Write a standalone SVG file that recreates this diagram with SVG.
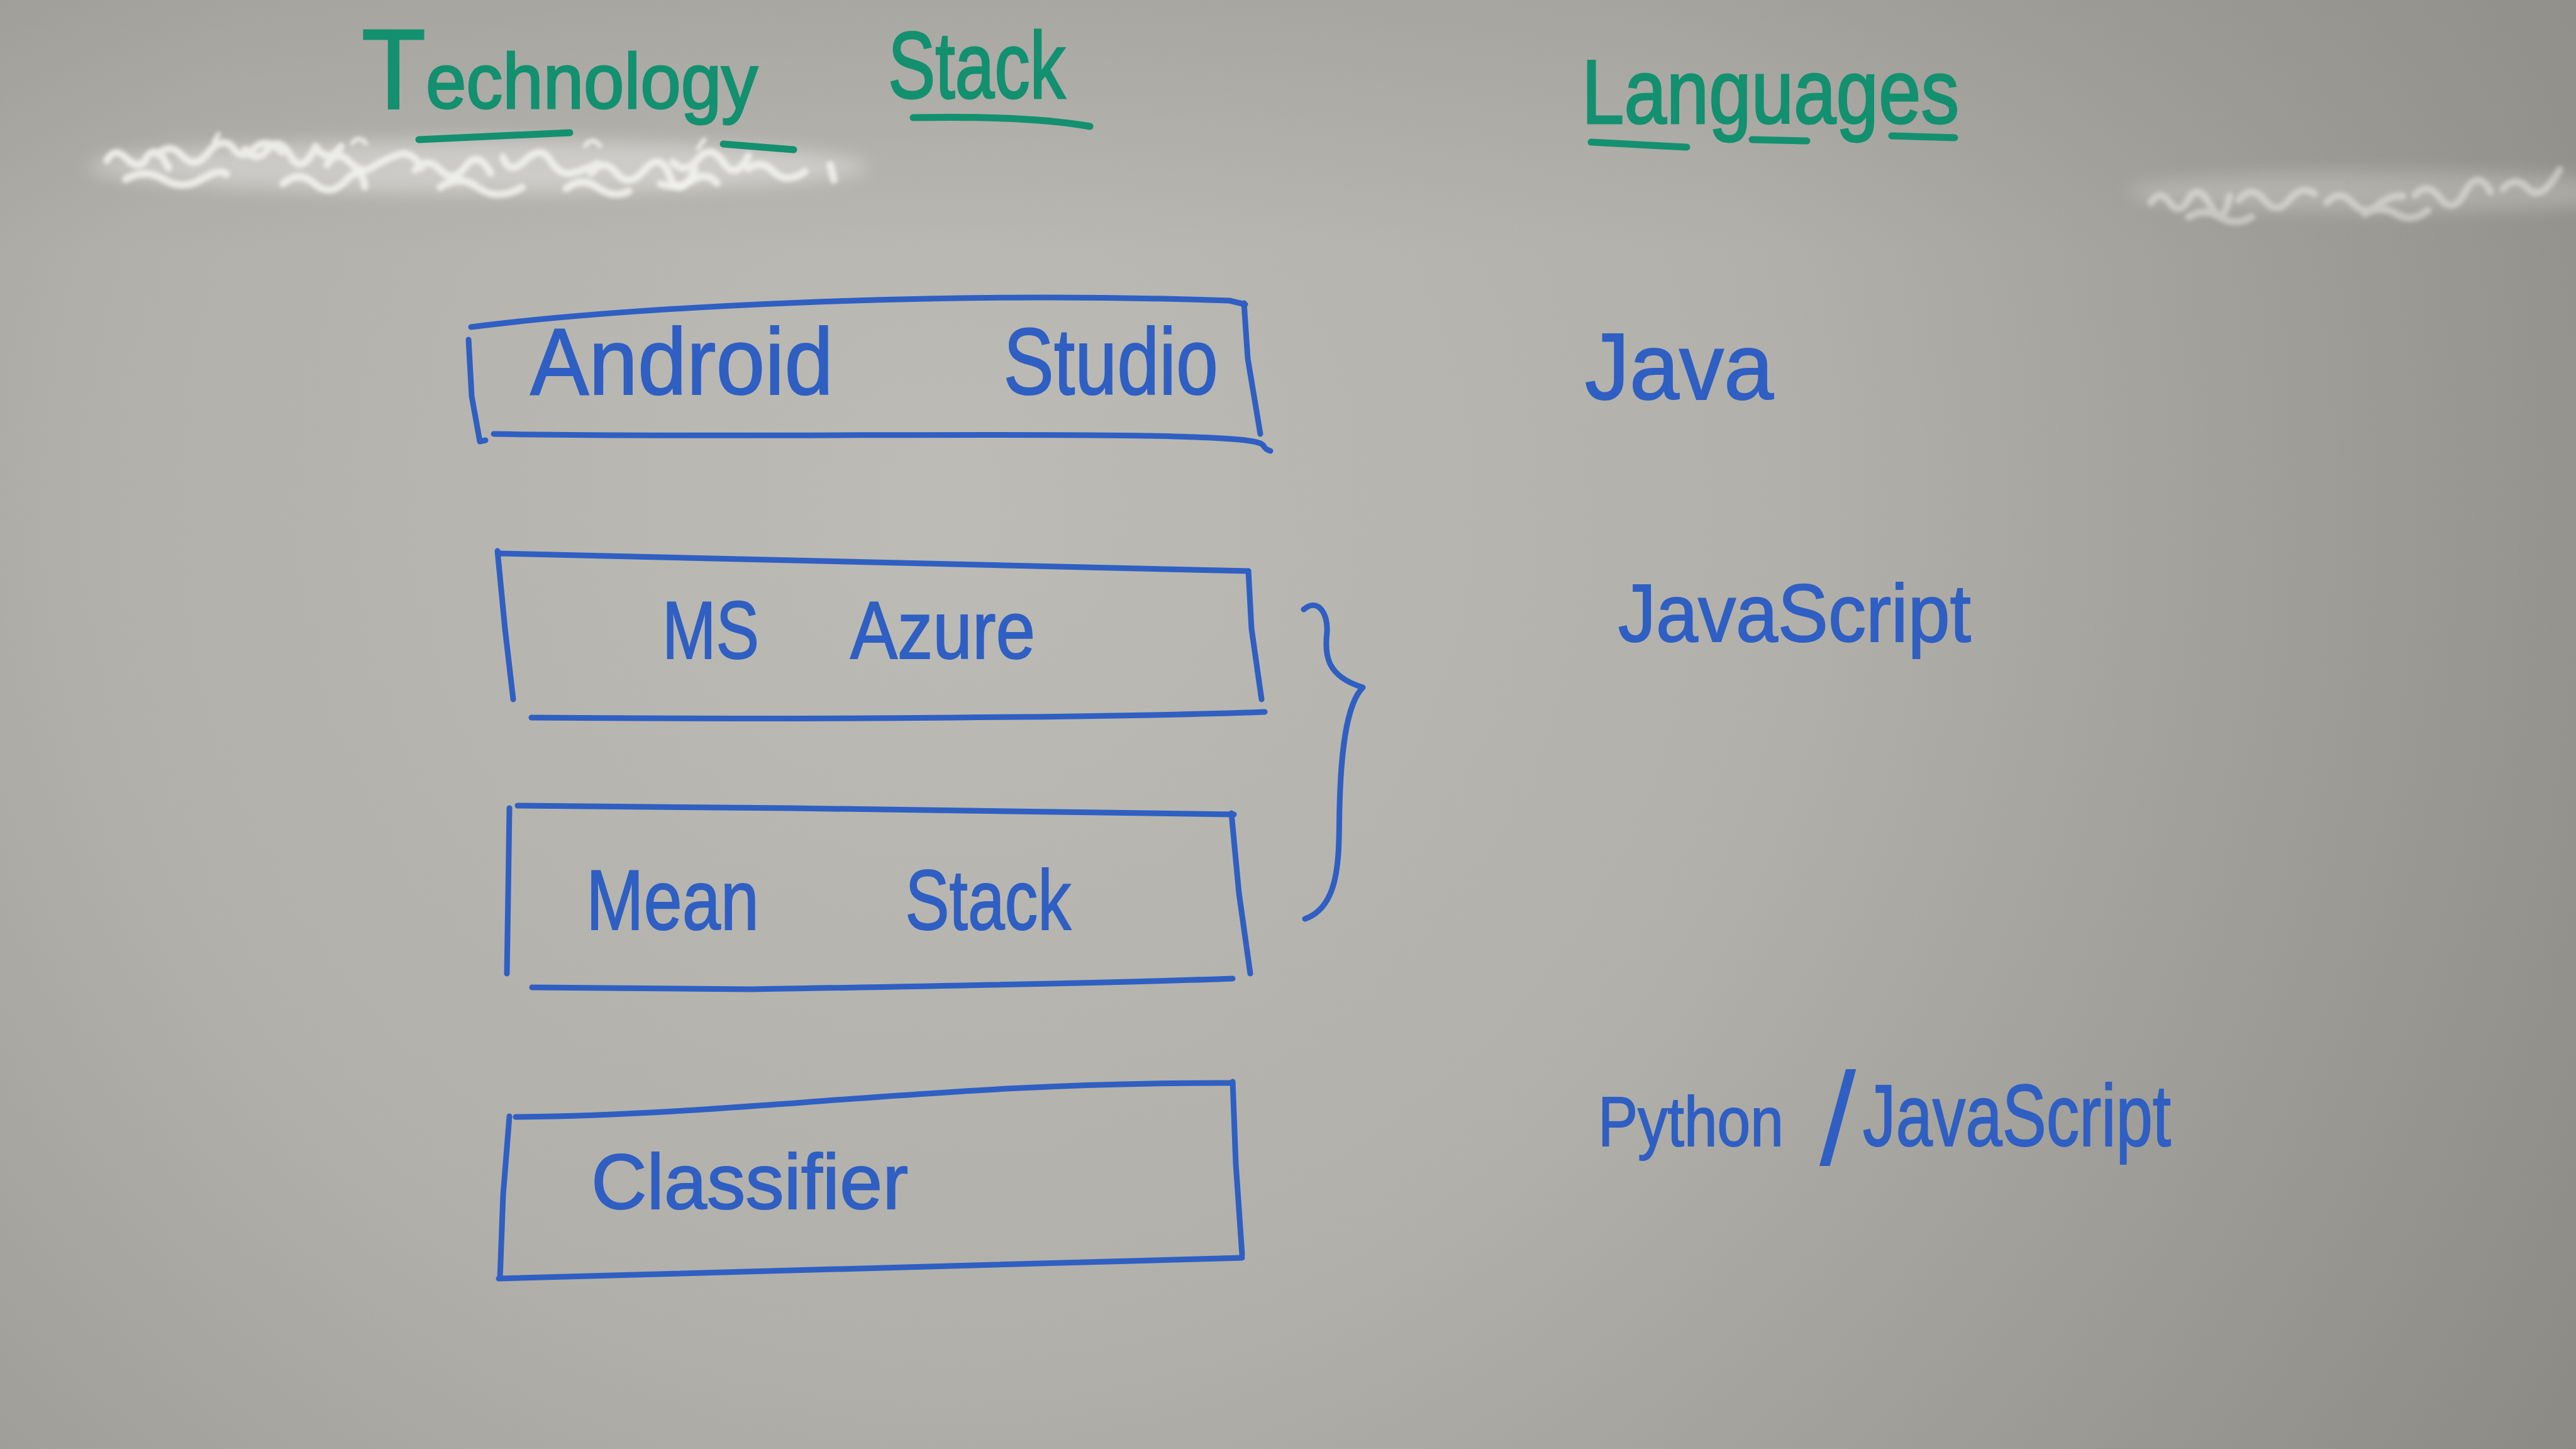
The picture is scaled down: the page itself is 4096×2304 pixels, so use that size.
<svg xmlns="http://www.w3.org/2000/svg" width="4096" height="2304" viewBox="0 0 4096 2304">
<defs>
<radialGradient id="board" cx="1500" cy="800" r="3000" gradientUnits="userSpaceOnUse">
<stop offset="0" stop-color="#bcbbb6"/>
<stop offset="0.45" stop-color="#b2b0aa"/>
<stop offset="1" stop-color="#8c8a84"/>
</radialGradient>
<linearGradient id="topshade" x1="0" y1="0" x2="0" y2="1">
<stop offset="0" stop-color="#8f8e8a" stop-opacity="0.35"/>
<stop offset="1" stop-color="#8f8e8a" stop-opacity="0"/>
</linearGradient>
<filter id="soft" x="-10%" y="-50%" width="120%" height="200%"><feGaussianBlur stdDeviation="14"/></filter>
<filter id="soft2" x="-10%" y="-50%" width="120%" height="200%"><feGaussianBlur stdDeviation="3"/></filter>
</defs>
<style>
.ink{fill:none;stroke:#2f5fc2;stroke-width:9;stroke-linecap:round;stroke-linejoin:round}
.gink{fill:none;stroke:#13906f;stroke-width:11;stroke-linecap:round;stroke-linejoin:round}
.lbl{font-family:"Liberation Sans",Arial,sans-serif;fill:#2f5fc2;stroke:#2f5fc2;stroke-width:2}
.ttl{font-family:"Liberation Sans",Arial,sans-serif;fill:#13906f;stroke:#13906f;stroke-width:3}
.smudge{fill:none;stroke:#f2f2ee;stroke-width:12;stroke-linecap:round;stroke-linejoin:round;opacity:0.85}
</style>
<rect x="0" y="0" width="4096" height="2304" fill="url(#board)"/>
<rect x="0" y="0" width="4096" height="400" fill="url(#topshade)"/>

<g id="smudges">
<ellipse cx="760" cy="265" rx="620" ry="42" fill="#ffffff" opacity="0.35" filter="url(#soft)"/>
<g filter="url(#soft2)">
<path class="smudge" d="M170 255 q12 -22 30 -4 t30 6 q10 -25 28 -8 l10 18 M250 246 q20 -20 40 2 t40 -4 t38 -12 q15 25 35 5 t45 5 M390 238 q18 22 36 0 t36 10 t40 -15 q20 30 40 0 M520 262 q15 -25 35 -5 t35 10 t40 -20 t40 20 M660 270 q20 -22 40 0 t40 -5 t40 10 M800 250 q10 30 35 5 t40 0 t35 20 t40 -15 M940 275 q20 -25 40 0 t45 -5 t40 10 t40 -10 M1070 258 q20 20 40 -5 t40 5 t40 -10 M1190 268 q20 -15 40 5 t50 0 M1320 262 l6 24"/>
<path class="smudge" d="M200 285 q30 -18 60 0 t60 0 t40 -8 M450 292 q25 -22 50 0 t50 -5 t30 10 M700 298 q30 -22 60 0 t70 0 M900 300 q25 -20 50 -2 t50 6 M1050 292 q25 10 50 -5 t40 4"/>
<path class="smudge" style="stroke-width:7" d="M340 225 l8 -12 M560 228 q10 -14 22 0 M930 232 q12 -16 24 0 M1110 236 l10 -14"/>
<ellipse cx="3800" cy="305" rx="420" ry="32" fill="#ffffff" opacity="0.22" filter="url(#soft)"/>
<path class="smudge" style="opacity:0.45" d="M3420 322 q15 -22 30 0 t30 -5 t35 10 t30 -15 M3560 318 q20 -25 40 0 t40 0 t40 -10 M3700 322 q20 -22 40 0 t40 5 t40 -15 M3840 310 q20 -22 40 5 t40 -10 t40 0 M3980 300 q20 -22 40 0 t50 -30 M3480 345 q25 -15 50 0 t50 0 M3760 340 q25 -15 50 0 t50 -5"/>
</g>
</g>

<g id="title-technology">
<text class="ttl" x="575" y="172" font-size="125" textLength="630" lengthAdjust="spacingAndGlyphs"><tspan font-size="180">T</tspan>echnology</text>
<path class="gink" d="M666 222 L906 211"/>
<path class="gink" d="M1150 229 L1262 238"/>
</g>
<g id="title-stack">
<text class="ttl" x="1412" y="156" font-size="150" textLength="282" lengthAdjust="spacingAndGlyphs">Stack</text>
<path class="gink" d="M1452 187 C1560 185 1660 188 1733 201"/>
</g>
<g id="title-languages">
<text class="ttl" x="2515" y="196" font-size="145" textLength="600" lengthAdjust="spacingAndGlyphs">Languages</text>
<path class="gink" d="M2530 226 L2682 234"/>
<path class="gink" d="M2786 222 L2873 224"/>
<path class="gink" d="M3008 216 L3108 219"/>
</g>

<g id="node-android-studio">
<path class="ink" d="M749 520 C1000 488 1500 462 1955 478 L1980 484"/>
<path class="ink" d="M1978 482 L1984 570 L2004 690"/>
<path class="ink" d="M745 540 L750 630 L763 702 L772 700"/>
<path class="ink" d="M785 690 C1100 696 1600 688 1830 693 S1990 708 2020 717"/>
<text class="lbl" y="627" font-size="150"><tspan x="843" textLength="482" lengthAdjust="spacingAndGlyphs">Android</tspan><tspan x="1562" textLength="375" lengthAdjust="spacingAndGlyphs"> Studio</tspan></text>
</g>

<g id="node-ms-azure">
<path class="ink" d="M794 880 C1200 886 1600 896 1985 908"/>
<path class="ink" d="M791 876 L803 1000 L816 1112"/>
<path class="ink" d="M1985 908 L1990 1000 L2006 1112"/>
<path class="ink" d="M845 1141 C1300 1145 1800 1140 2011 1132"/>
<text class="lbl" y="1047" font-size="130"><tspan x="1053" textLength="154" lengthAdjust="spacingAndGlyphs">MS</tspan><tspan x="1327" textLength="319" lengthAdjust="spacingAndGlyphs"> Azure</tspan></text>
</g>

<g id="node-mean-stack">
<path class="ink" d="M823 1281 C1200 1283 1600 1290 1962 1295"/>
<path class="ink" d="M810 1285 L808 1420 L806 1548"/>
<path class="ink" d="M1958 1293 L1970 1420 L1988 1548"/>
<path class="ink" d="M846 1570 L1195 1573 C1500 1568 1800 1562 1960 1556"/>
<text class="lbl" y="1478" font-size="135"><tspan x="932" textLength="275" lengthAdjust="spacingAndGlyphs">Mean</tspan><tspan x="1410" textLength="293" lengthAdjust="spacingAndGlyphs"> Stack</tspan></text>
</g>

<g id="node-classifier">
<path class="ink" d="M820 1776 C1200 1772 1500 1720 1960 1722"/>
<path class="ink" d="M810 1775 L800 1900 L795 2032"/>
<path class="ink" d="M1960 1720 L1965 1850 L1975 1995"/>
<path class="ink" d="M793 2033 C1200 2020 1600 2010 1975 2000"/>
<text class="lbl" x="940" y="1922" font-size="125" textLength="504" lengthAdjust="spacingAndGlyphs">Classifier</text>
</g>

<g id="connectors">
<path class="ink" d="M2073 969 C2095 950 2112 975 2110 1005 C2106 1040 2108 1075 2167 1093 C2140 1120 2132 1200 2130 1283 C2128 1350 2135 1440 2075 1461"/>
</g>

<g id="lang-java">
<text class="lbl" x="2520" y="635" font-size="150" textLength="300" lengthAdjust="spacingAndGlyphs">Java</text>
</g>
<g id="lang-javascript">
<text class="lbl" x="2573" y="1020" font-size="130" textLength="561" lengthAdjust="spacingAndGlyphs">JavaScript</text>
</g>
<g id="lang-python-javascript">
<text class="lbl" y="1822" font-size="140"><tspan x="2541" font-size="112" textLength="295" lengthAdjust="spacingAndGlyphs">Python</tspan><tspan x="2893" font-size="210" dy="30" stroke-width="0">/</tspan><tspan x="2962" dy="-30" textLength="490" lengthAdjust="spacingAndGlyphs">JavaScript</tspan></text>
</g>
</svg>
